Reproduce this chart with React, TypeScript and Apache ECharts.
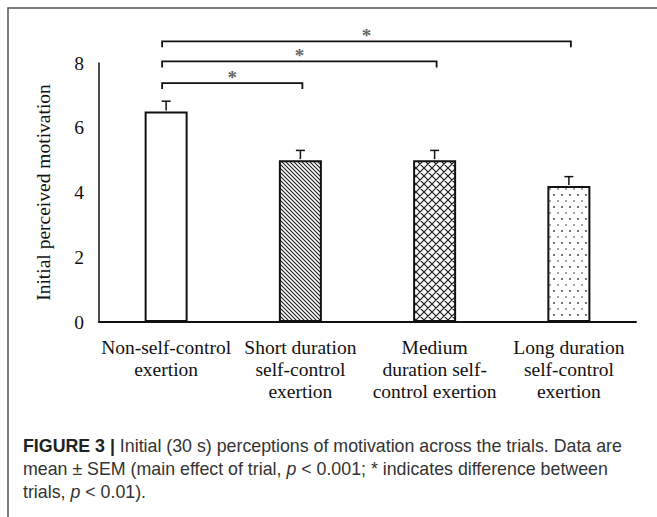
import React, { useEffect, useRef } from 'react';
import * as echarts from 'echarts';

// ---- data ----
const categories = [
  'Non-self-control\nexertion',
  'Short duration\nself-control\nexertion',
  'Medium\nduration self-\ncontrol exertion',
  'Long duration\nself-control\nexertion',
];
const means = [6.5, 5.0, 5.0, 4.2];
const sems = [0.32, 0.3, 0.3, 0.29];
const yMin = 0;
const yMax = 8;
const yInterval = 2;
const comparisonFrom = [0, 0, 0];
const comparisonTo = [1, 2, 3];
const bracketLevels = [7.38, 8.05, 8.67];
const bracketMarks = ['*', '*', '*'];
const fillKinds = ['plain', 'hatch', 'cross', 'dots'];
const yAxisTitle = 'Initial perceived motivation';
const captionLines = [
  '{b|FIGURE 3 |} Initial (30 s) perceptions of motivation across the trials. Data are',
  'mean ± SEM (main effect of trial, {i|p} < 0.001; * indicates difference between',
  'trials, {i|p} < 0.01).',
];

const SERIF = '"Liberation Serif", "Times New Roman", serif';
const SANS = '"Liberation Sans", Arial, sans-serif';
const CAP_SIZE = 17.8;
const CAP_LH = 23;

function makeFill(kind: string): any {
  if (kind === 'plain') return '#ffffff';
  const c = document.createElement('canvas');
  let w = 4, h = 4;
  if (kind === 'cross') { w = 8; h = 8; }
  if (kind === 'dots') { w = 8; h = 12; }
  c.width = w; c.height = h;
  const ctx = c.getContext('2d')!;
  ctx.fillStyle = '#ffffff';
  ctx.fillRect(0, 0, w, h);
  if (kind === 'hatch') {
    ctx.strokeStyle = '#1a1a1a';
    ctx.lineWidth = 1.1;
    ctx.beginPath();
    ctx.moveTo(-1, -1); ctx.lineTo(5, 5);
    ctx.moveTo(3, -1); ctx.lineTo(5, 1);
    ctx.moveTo(-1, 3); ctx.lineTo(1, 5);
    ctx.stroke();
  } else if (kind === 'cross') {
    ctx.strokeStyle = '#1a1a1a';
    ctx.lineWidth = 1.2;
    ctx.beginPath();
    ctx.moveTo(-1, -1); ctx.lineTo(9, 9);
    ctx.moveTo(9, -1); ctx.lineTo(-1, 9);
    ctx.moveTo(7, -1); ctx.lineTo(9, 1);
    ctx.moveTo(-1, 7); ctx.lineTo(1, 9);
    ctx.moveTo(1, -1); ctx.lineTo(-1, 1);
    ctx.moveTo(9, 7); ctx.lineTo(7, 9);
    ctx.stroke();
  } else if (kind === 'dots') {
    ctx.fillStyle = '#333333';
    ctx.beginPath(); ctx.arc(2, 3, 0.9, 0, Math.PI * 2); ctx.fill();
    ctx.fillStyle = '#777777';
    ctx.beginPath(); ctx.arc(6, 9, 0.9, 0, Math.PI * 2); ctx.fill();
  }
  return { image: c.toDataURL(), repeat: 'repeat', imageWidth: w, imageHeight: h };
}

export default function App() {
  const ref = useRef<HTMLDivElement>(null);
  useEffect(() => {
    if (!ref.current) return;
    const chart = echarts.init(ref.current, null, { renderer: 'svg' });
    const fills = fillKinds.map(makeFill);
    const option: any = {
      animation: false,
      backgroundColor: '#ffffff',
      grid: { left: 99, right: 21, top: 63, bottom: 195, containLabel: false },
      xAxis: {
        type: 'category',
        data: categories,
        axisLine: { show: true, lineStyle: { color: '#111', width: 2 } },
        axisTick: { show: false },
        splitLine: { show: false },
        axisLabel: {
          interval: 0,
          hideOverlap: false,
          margin: 14,
          fontSize: 19.5,
          lineHeight: 22,
          fontFamily: SERIF,
          color: '#111',
        },
      },
      yAxis: {
        type: 'value',
        min: yMin,
        max: yMax,
        interval: yInterval,
        name: yAxisTitle,
        nameLocation: 'middle',
        nameRotate: 90,
        nameGap: 46,
        nameTextStyle: { fontSize: 19.5, fontFamily: SERIF, color: '#111' },
        axisLine: { show: true, lineStyle: { color: '#111', width: 1.5 } },
        axisTick: { show: false },
        splitLine: { show: false },
        axisLabel: { margin: 15, fontSize: 19.5, fontFamily: SERIF, color: '#111' },
      },
      series: [
        {
          type: 'bar',
          barWidth: 43,
          silent: true,
          itemStyle: { borderColor: '#111', borderWidth: 2 },
          data: means.map((v, i) => ({ value: v, itemStyle: { color: fills[i] } })),
        },
        {
          type: 'custom',
          silent: true,
          encode: { x: 0, y: 1 },
          data: means.map((v, i) => [i, v, sems[i]]),
          renderItem: (params: any, api: any) => {
            const x = api.value(0);
            const v = api.value(1);
            const e = api.value(2);
            const p0 = api.coord([x, v]);
            const p1 = api.coord([x, v + e]);
            const style = { stroke: '#111', lineWidth: 1.5 };
            return {
              type: 'group',
              children: [
                { type: 'line', shape: { x1: p0[0], y1: p0[1] - 1, x2: p1[0], y2: p1[1] }, style },
                { type: 'line', shape: { x1: p1[0] - 4.5, y1: p1[1], x2: p1[0] + 4.5, y2: p1[1] }, style },
              ],
            };
          },
        },
        {
          type: 'custom',
          silent: true,
          clip: false,
          encode: { x: 0, y: 2 },
          data: comparisonFrom.map((a, k) => [a, comparisonTo[k], bracketLevels[k]]),
          renderItem: (params: any, api: any) => {
            const a = api.value(0);
            const b = api.value(1);
            const lvl = api.value(2);
            const p1 = api.coord([a, lvl]);
            const p2 = api.coord([b, lvl]);
            const x1 = p1[0] - 4;
            const x2 = p2[0] + 2;
            const y = p1[1];
            return {
              type: 'group',
              children: [
                {
                  type: 'polyline',
                  shape: { points: [[x1, y + 6], [x1, y], [x2, y], [x2, y + 6]] },
                  style: { stroke: '#111', lineWidth: 1.8, fill: 'none' },
                },
                {
                  type: 'text',
                  x: (x1 + x2) / 2,
                  y: y - 6,
                  style: {
                    text: bracketMarks[params.dataIndex],
                    fontSize: 19,
                    fontWeight: 'bold',
                    fontFamily: SERIF,
                    fill: '#666',
                    align: 'center',
                    verticalAlign: 'middle',
                  },
                },
              ],
            };
          },
        },
      ],
      graphic: [
        {
          type: 'polyline',
          shape: { points: [[657, 8], [8, 8], [8, 517]] },
          style: { stroke: '#555', lineWidth: 1.5, fill: 'none' },
          silent: true,
        },
        {
          type: 'text',
          x: 23,
          y: 434,
          silent: true,
          style: {
            text: captionLines.join('\n'),
            fontSize: CAP_SIZE,
            fontFamily: SANS,
            fill: '#333',
            lineHeight: CAP_LH,
            align: 'left',
            verticalAlign: 'top',
            rich: {
              b: { fontSize: CAP_SIZE, fontFamily: SANS, fontWeight: 'bold', fill: '#222', lineHeight: CAP_LH },
              i: { fontSize: CAP_SIZE, fontFamily: SANS, fontStyle: 'italic', fill: '#333', lineHeight: CAP_LH },
            },
          },
        },
      ],
    };
    chart.setOption(option);
    return () => chart.dispose();
  }, []);
  return (
    <div
      ref={ref}
      style={{ position: 'fixed', left: 0, top: 0, width: 657, height: 517, background: '#fff' }}
    />
  );
}
